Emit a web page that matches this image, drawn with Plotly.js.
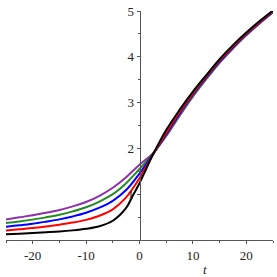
<!DOCTYPE html>
<html>
<head>
<meta charset="utf-8">
<script src="https://cdn.plot.ly/plotly-3.0.1.min.js"></script>
<style>html,body{margin:0;padding:0;background:#fff;}#chart{width:277px;height:277px;}</style>
</head>
<body>
<div id="chart"></div>
<script>
// shared t values (x axis)
var tValues = [-25, -22.5, -20, -17.5, -15, -12.5, -10, -7.5, -5, -2.5, 0, 2.5, 5, 7.5, 10, 12.5, 15, 17.5, 20, 22.5, 25];
var tBlack  = [-25, -22.5, -20, -17.5, -15, -12.5, -10, -7.5, -5, -2.5, -1.25, 0, 1.25, 2.5, 5, 7.5, 10, 12.5, 15, 17.5, 20, 22.5, 25];

// series values
var blackY  = [0.125, 0.137, 0.152, 0.168, 0.185, 0.21, 0.245, 0.30, 0.42, 0.70, 0.97, 1.24, 1.55, 1.86, 2.40, 2.84, 3.24, 3.60, 3.95, 4.255, 4.53, 4.78, 5.01];
var redY    = [0.21, 0.235, 0.26, 0.295, 0.335, 0.38, 0.44, 0.53, 0.67, 0.93, 1.35, 1.86, 2.34, 2.79, 3.20, 3.57, 3.92, 4.23, 4.51, 4.76, 5.00];
var blueY   = [0.29, 0.32, 0.355, 0.40, 0.45, 0.515, 0.595, 0.705, 0.855, 1.09, 1.45, 1.87, 2.31, 2.76, 3.18, 3.55, 3.90, 4.21, 4.49, 4.75, 4.99];
var greenY  = [0.37, 0.405, 0.445, 0.495, 0.55, 0.625, 0.715, 0.84, 1.00, 1.24, 1.55, 1.88, 2.29, 2.73, 3.15, 3.53, 3.88, 4.195, 4.48, 4.74, 4.98];
var purpleY = [0.45, 0.495, 0.54, 0.595, 0.655, 0.735, 0.83, 0.965, 1.14, 1.37, 1.645, 1.89, 2.27, 2.71, 3.13, 3.51, 3.87, 4.18, 4.47, 4.73, 4.97];

// tick labels
var xTickVals = [-20, -10, 0, 10, 20];
var xTickText = ["-20", "-10", "0", "10", "20"];
var xMinorVals = [-25, -15, -5, 5, 15, 25];
var yTickVals = [1, 2, 3, 4, 5];
var yTickText = ["1", "2", "3", "4", "5"];
var yMinorVals = [0.5, 1.5, 2.5, 3.5, 4.5];

var series = [
  {x: tValues, y: purpleY, color: "#9030a8"},
  {x: tValues, y: greenY,  color: "#228b22"},
  {x: tValues, y: blueY,   color: "#0000ff"},
  {x: tValues, y: redY,    color: "#ff0000"},
  {x: tBlack,  y: blackY,  color: "#000000"}
];

var traces = series.map(function(s){
  return {x: s.x, y: s.y, type: "scatter", mode: "lines",
          line: {color: s.color, width: 2, shape: "spline", smoothing: 1},
          hoverinfo: "none", showlegend: false};
});

var serif = "Liberation Serif";
var tickFont = {family: serif, size: 13, color: "#222"};

var layout = {
  width: 277, height: 277,
  margin: {l: 6, r: 4, t: 11, b: 37, pad: 0},
  paper_bgcolor: "#fff", plot_bgcolor: "#fff",
  showlegend: false,
  font: {family: serif, size: 13, color: "#222"},
  xaxis: {
    range: [-25, 25], showgrid: false, zeroline: false,
    showline: true, linecolor: "#555", linewidth: 1,
    tickmode: "array", tickvals: xTickVals, ticktext: xTickText,
    ticks: "outside", ticklen: 3, tickcolor: "#555", tickwidth: 1,
    minor: {tickmode: "array", tickvals: xMinorVals, ticks: "outside", ticklen: 2, tickcolor: "#555", tickwidth: 1, showgrid: false},
    tickfont: tickFont, fixedrange: true
  },
  yaxis: {
    range: [0, 5], showgrid: false, zeroline: false,
    anchor: "free", position: 0.5,
    showline: true, linecolor: "#555", linewidth: 1,
    tickmode: "array", tickvals: yTickVals, ticktext: yTickText,
    ticks: "outside", ticklen: 3, tickcolor: "#555", tickwidth: 1,
    minor: {tickmode: "array", tickvals: yMinorVals, ticks: "outside", ticklen: 2, tickcolor: "#555", tickwidth: 1, showgrid: false},
    tickfont: tickFont, fixedrange: true
  },
  annotations: [{
    text: "<i>t</i>", xref: "paper", yref: "paper", x: 0.745, y: -0.131,
    xanchor: "center", yanchor: "middle", showarrow: false,
    font: {family: serif, size: 13, color: "#222"}
  }]
};

Plotly.newPlot("chart", traces, layout, {staticPlot: true, displayModeBar: false});
</script>
</body>
</html>
